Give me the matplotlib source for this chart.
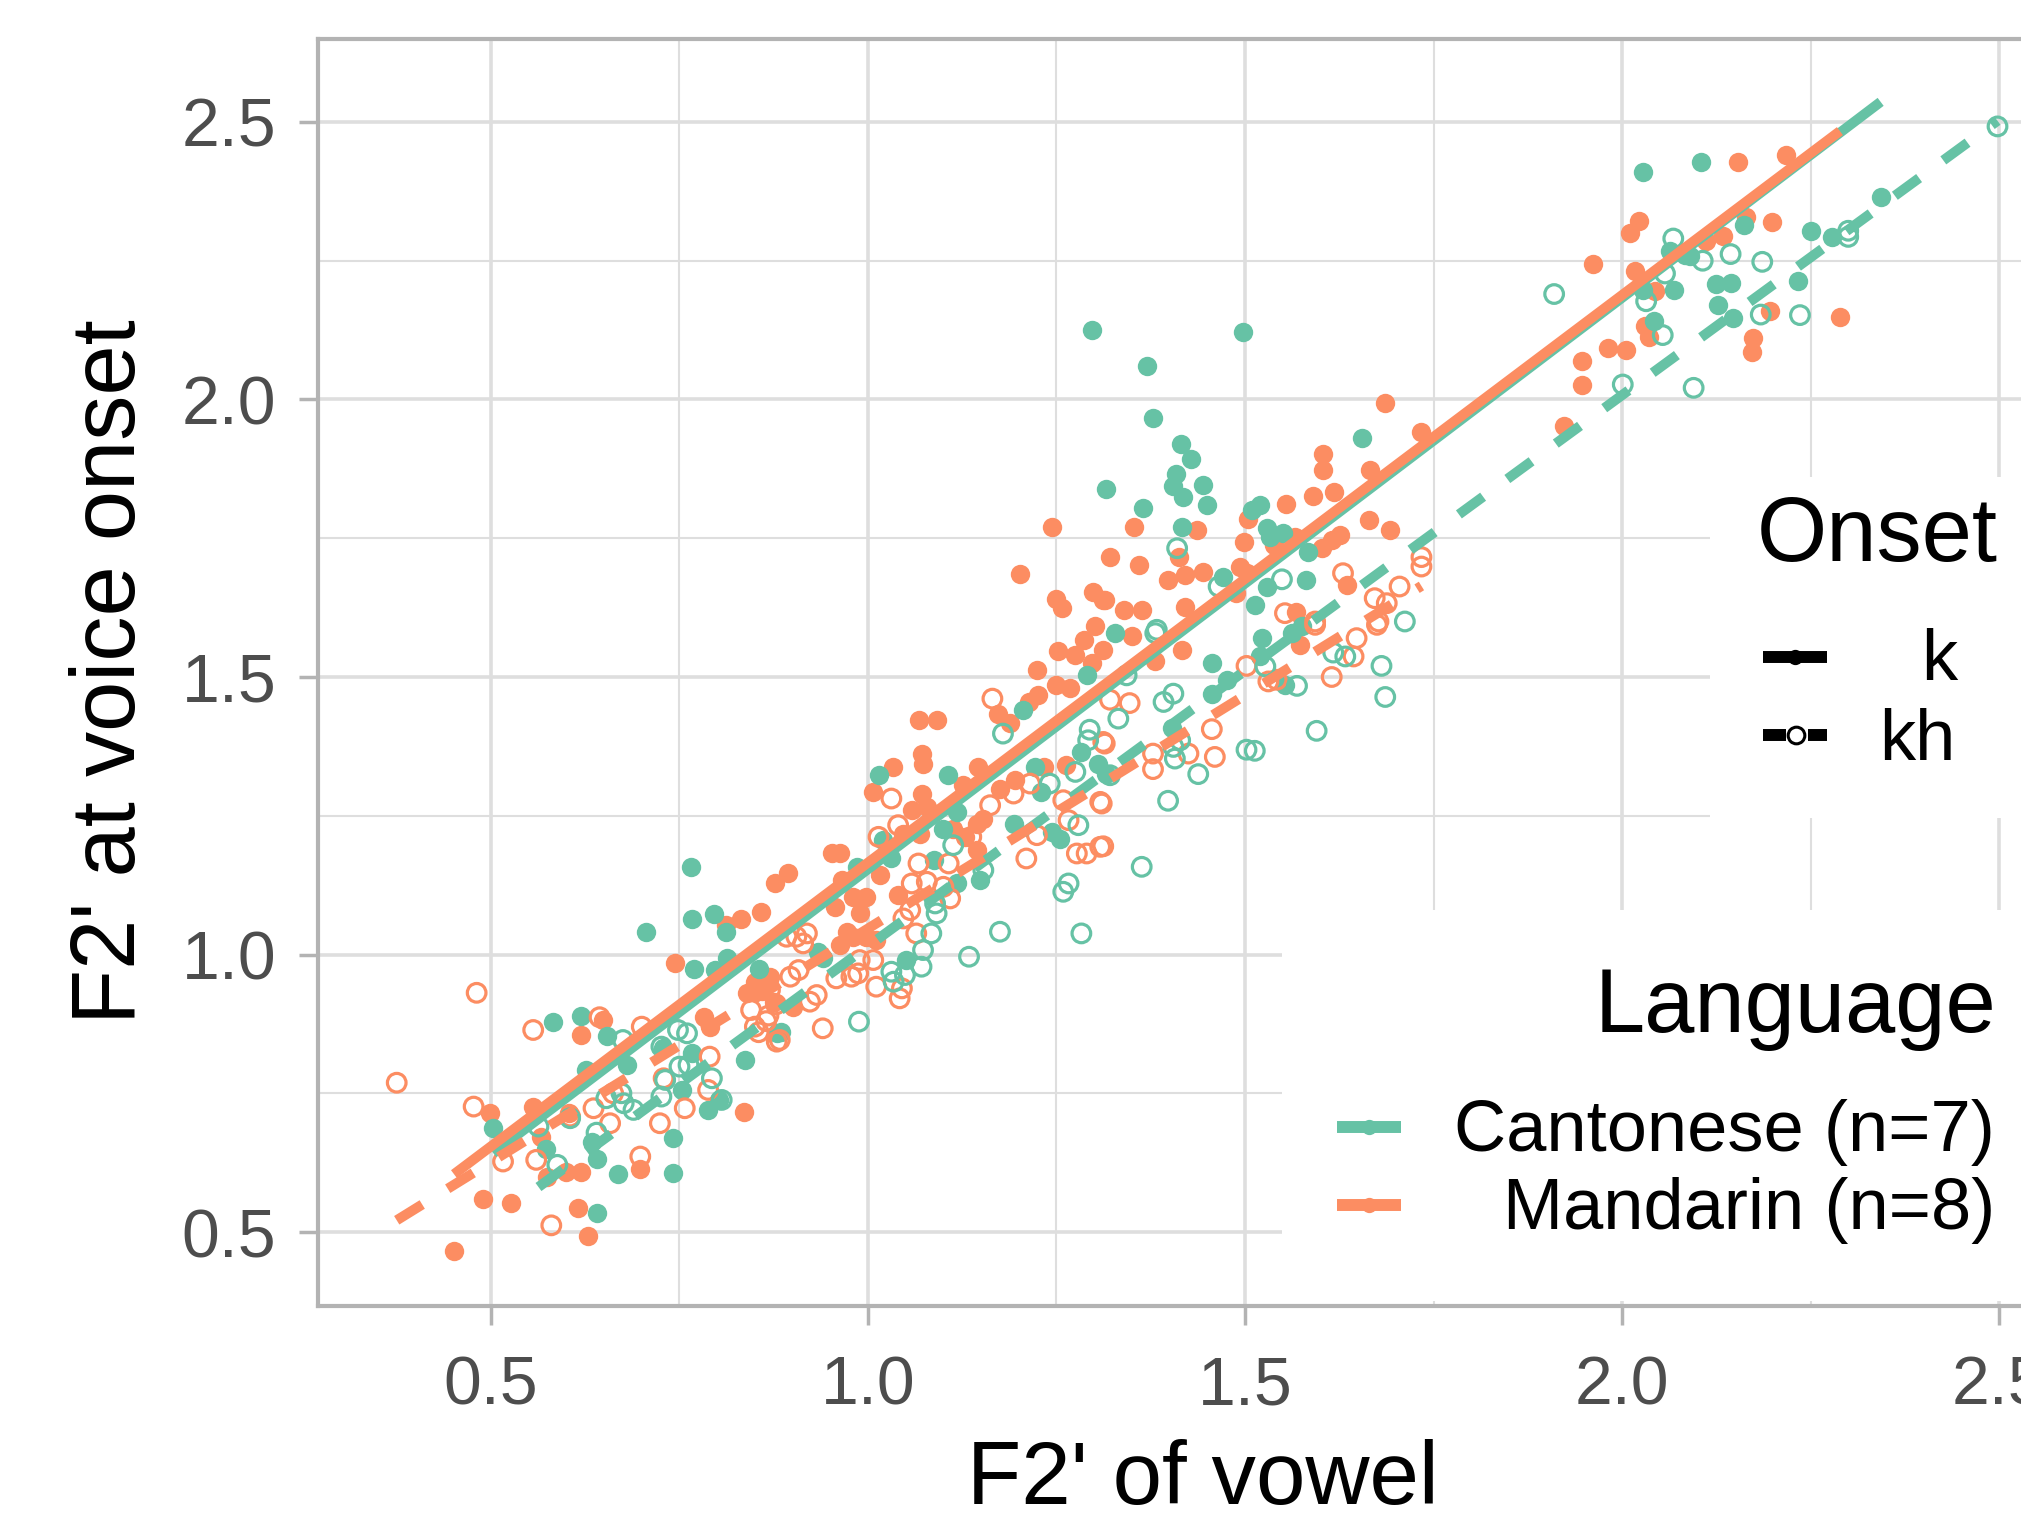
import numpy as np
import matplotlib.pyplot as plt
from matplotlib.patches import Rectangle
from matplotlib.lines import Line2D

plt.rcParams['font.family'] = ['Liberation Sans', 'DejaVu Sans']

# Output size in pixels (dpi 100).
W, H = 2021, 1514

# Colours (ColorBrewer Set2).
teal = '#66C2A5'
orange = '#FC8D62'

# Cantonese, onset k (filled).
cant_k_x = [2.028, 2.105, 2.162, 2.069, 2.251, 2.278, 2.343, 2.234, 2.125, 2.144, 2.127, 2.147, 2.042, 2.028, 2.09,
            2.083, 2.063, 1.497, 1.37, 1.378, 1.415, 1.428, 1.408, 1.404, 1.418, 1.444, 1.449, 1.316, 1.365, 1.416,
            1.655, 1.509, 1.52, 1.529, 1.55, 1.533, 1.583, 1.581, 1.529, 1.513, 1.471, 1.297, 1.29, 1.206, 1.015,
            1.106, 1.221, 1.23, 1.193, 1.244, 1.255, 1.118, 1.1, 1.02, 1.031, 0.985, 1.087, 1.149, 1.118, 1.305,
            1.283, 1.316, 1.328, 1.522, 1.562, 1.575, 1.456, 1.476, 1.456, 1.52, 1.553, 1.403, 0.765, 0.767, 0.796,
            0.706, 0.812, 0.769, 0.797, 0.855, 0.813, 0.582, 0.62, 0.654, 0.68, 0.626, 0.503, 0.573, 0.64, 0.634,
            0.669, 0.742, 0.741, 0.641, 0.753, 0.766, 0.788, 0.802, 0.837, 0.879, 0.728, 0.885, 0.934, 0.941, 1.051]
cant_k_y = [2.41, 2.428, 2.314, 2.197, 2.304, 2.292, 2.364, 2.214, 2.208, 2.21, 2.17, 2.147, 2.141, 2.198, 2.259,
            2.26, 2.267, 2.121, 2.061, 1.967, 1.92, 1.893, 1.866, 1.845, 1.825, 1.846, 1.81, 1.839, 1.805, 1.771,
            1.931, 1.8, 1.81, 1.768, 1.76, 1.753, 1.726, 1.675, 1.663, 1.63, 1.68, 2.125, 1.504, 1.44, 1.323,
            1.323, 1.338, 1.293, 1.236, 1.221, 1.209, 1.257, 1.227, 1.206, 1.173, 1.158, 1.17, 1.134, 1.128, 1.344,
            1.365, 1.326, 1.58, 1.57, 1.58, 1.591, 1.525, 1.495, 1.47, 1.537, 1.486, 1.408, 1.157, 1.064, 1.073,
            1.041, 1.041, 0.973, 0.972, 0.973, 0.993, 0.879, 0.889, 0.853, 0.801, 0.792, 0.687, 0.649, 0.631, 0.663,
            0.605, 0.606, 0.669, 0.535, 0.755, 0.822, 0.72, 0.738, 0.81, 0.858, 0.831, 0.861, 1.005, 0.993, 0.99]

# Cantonese, onset kh (open).
cant_kh_x = [2.498, 2.30, 2.30, 1.91, 2.068, 2.107, 2.144, 2.186, 2.057, 2.032, 2.184, 2.236, 2.054, 2.001, 2.095,
             1.41, 1.549, 1.465, 1.712, 1.383, 1.179, 1.294, 1.292, 1.275, 1.241, 1.279, 1.113, 1.153, 1.089,
             1.091, 1.259, 1.266, 1.175, 1.283, 1.084, 1.381, 1.617, 1.633, 1.681, 1.686, 1.569, 1.527, 1.392,
             1.405, 1.332, 1.414, 1.405, 1.407, 1.438, 1.502, 1.513, 1.595, 1.398, 1.363, 1.321, 1.343, 0.675,
             0.726, 0.748, 0.76, 0.75, 0.762, 0.793, 0.731, 0.673, 0.726, 0.653, 0.689, 0.676, 0.806, 0.64, 0.588,
             0.605, 0.563, 1.134, 0.988, 1.071, 1.073, 1.049, 1.031, 1.034]
cant_kh_y = [2.492, 2.304, 2.293, 2.19, 2.29, 2.25, 2.262, 2.248, 2.227, 2.177, 2.153, 2.152, 2.116, 2.027, 2.021,
             1.732, 1.676, 1.663, 1.6, 1.585, 1.398, 1.405, 1.386, 1.329, 1.308, 1.233, 1.197, 1.152, 1.092,
             1.074, 1.113, 1.128, 1.041, 1.038, 1.038, 1.579, 1.544, 1.537, 1.52, 1.464, 1.484, 1.519, 1.455,
             1.47, 1.425, 1.386, 1.374, 1.353, 1.325, 1.369, 1.367, 1.403, 1.277, 1.158, 1.323, 1.503, 0.846,
             0.834, 0.864, 0.858, 0.798, 0.801, 0.777, 0.774, 0.75, 0.744, 0.741, 0.72, 0.732, 0.738, 0.679, 0.621,
             0.705, 0.69, 0.996, 0.879, 0.978, 1.008, 0.963, 0.969, 0.951]

# Mandarin, onset k (filled).
mand_k_x = [2.154, 2.218, 2.022, 2.01, 1.962, 2.017, 2.044, 2.112, 2.134, 2.164, 2.199, 2.196, 2.174, 2.172, 2.289,
            2.031, 2.036, 1.981, 2.005, 1.947, 1.947, 1.923, 1.686, 1.734, 1.604, 1.604, 1.666, 1.59, 1.618, 1.555,
            1.504, 1.353, 1.437, 1.665, 1.692, 1.499, 1.538, 1.566, 1.602, 1.615, 1.626, 1.321, 1.359, 1.413, 1.42,
            1.444, 1.398, 1.493, 1.502, 1.488, 1.635, 1.314, 1.339, 1.363, 1.42, 1.568, 1.244, 1.202, 1.249, 1.257,
            1.299, 1.312, 1.301, 1.286, 1.252, 1.275, 1.297, 1.312, 1.224, 1.249, 1.268, 1.226, 1.213, 1.173, 1.188,
            1.067, 1.091, 1.071, 1.073, 1.033, 1.146, 1.006, 1.071, 1.126, 1.058, 1.078, 1.153, 1.144, 1.113, 1.129,
            1.047, 1.069, 0.952, 0.963, 0.894, 0.877, 0.965, 1.016, 0.98, 0.998, 1.04, 0.956, 0.989, 0.972, 1.233,
            1.263, 1.195, 1.175, 1.144, 1.35, 1.416, 1.381, 1.573, 0.832, 0.858, 0.812, 0.744, 0.62, 0.649, 0.499,
            0.556, 0.567, 0.603, 0.6, 0.62, 0.574, 0.697, 0.49, 0.527, 0.616, 0.629, 0.451, 0.835, 0.85, 0.87, 0.84,
            0.86, 0.875, 0.782, 0.79, 0.901, 0.963, 0.98, 0.998, 1.011]
mand_k_y = [2.428, 2.44, 2.322, 2.30, 2.245, 2.232, 2.195, 2.286, 2.295, 2.328, 2.32, 2.159, 2.11, 2.086, 2.149,
            2.132, 2.113, 2.093, 2.089, 2.069, 2.026, 1.952, 1.993, 1.942, 1.902, 1.873, 1.873, 1.826, 1.834, 1.811,
            1.785, 1.771, 1.765, 1.782, 1.765, 1.744, 1.738, 1.753, 1.732, 1.747, 1.755, 1.716, 1.702, 1.716, 1.684,
            1.69, 1.674, 1.699, 1.687, 1.651, 1.666, 1.639, 1.621, 1.621, 1.627, 1.618, 1.77, 1.685, 1.64, 1.625,
            1.654, 1.639, 1.591, 1.566, 1.547, 1.54, 1.526, 1.549, 1.513, 1.486, 1.48, 1.468, 1.455, 1.434, 1.417,
            1.423, 1.423, 1.362, 1.344, 1.338, 1.338, 1.292, 1.29, 1.305, 1.26, 1.266, 1.245, 1.236, 1.227, 1.212,
            1.218, 1.218, 1.182, 1.182, 1.146, 1.128, 1.134, 1.143, 1.104, 1.104, 1.107, 1.086, 1.074, 1.041, 1.338,
            1.341, 1.314, 1.299, 1.188, 1.573, 1.549, 1.528, 1.558, 1.064, 1.077, 1.053, 0.984, 0.855, 0.882, 0.714,
            0.726, 0.672, 0.714, 0.609, 0.609, 0.6, 0.613, 0.559, 0.553, 0.544, 0.493, 0.466, 0.717, 0.95, 0.96, 0.93,
            0.935, 0.915, 0.888, 0.87, 0.906, 1.017, 1.032, 1.032, 1.026]

# Mandarin, onset kh (open).
mand_kh_x = [1.63, 1.734, 1.734, 1.705, 1.672, 1.688, 1.553, 1.593, 1.677, 1.165, 1.031, 1.04, 1.014, 1.162, 1.193,
             1.215, 1.308, 1.224, 1.137, 1.259, 1.266, 1.277, 1.29, 1.308, 1.21, 1.067, 1.107, 1.058, 1.078, 1.1,
             1.109, 1.056, 1.047, 0.919, 0.905, 1.312, 1.593, 1.648, 1.675, 1.644, 1.615, 1.502, 1.531, 1.542,
             1.347, 1.321, 1.456, 1.46, 1.425, 1.378, 1.378, 1.314, 1.31, 1.312, 0.375, 0.481, 0.556, 0.477, 0.644,
             0.7, 0.79, 0.724, 0.757, 0.788, 0.658, 0.636, 0.516, 0.56, 0.58, 0.698, 0.729, 0.662, 0.605, 0.879,
             0.845, 0.865, 0.85, 0.855, 0.868, 0.878, 0.94, 0.883, 0.923, 0.932, 0.958, 0.978, 0.987, 1.011, 1.042,
             1.045, 1.007, 0.989, 0.897, 0.908, 0.914, 0.892, 0.87, 1.064]
mand_kh_y = [1.687, 1.716, 1.699, 1.663, 1.642, 1.633, 1.615, 1.6, 1.6, 1.461, 1.281, 1.233, 1.212, 1.269, 1.29,
             1.308, 1.275, 1.215, 1.212, 1.278, 1.242, 1.182, 1.182, 1.194, 1.173, 1.164, 1.164, 1.128, 1.131, 1.122,
             1.101, 1.08, 1.065, 1.038, 1.032, 1.383, 1.594, 1.57, 1.594, 1.537, 1.5, 1.52, 1.492, 1.495,
             1.453, 1.459, 1.406, 1.356, 1.362, 1.362, 1.334, 1.38, 1.272, 1.195, 0.769, 0.931, 0.864, 0.726, 0.887,
             0.87, 0.816, 0.696, 0.723, 0.756, 0.696, 0.723, 0.627, 0.63, 0.512, 0.636, 0.777, 0.75, 0.708, 0.843,
             0.9, 0.88, 0.87, 0.86, 0.89, 0.91, 0.867, 0.846, 0.915, 0.927, 0.957, 0.96, 0.966, 0.942, 0.921,
             0.939, 0.99, 0.99, 0.96, 0.972, 1.02, 1.032, 0.936, 1.038]

language_labels = ['Cantonese (n=7)', 'Mandarin (n=8)']
onset_labels = ['k', 'kh']


def fx(px):
    return px / W


def fy(py):
    return 1 - py / H


fig = plt.figure(figsize=(W / 100, H / 100), dpi=100)
ax = fig.add_axes([fx(318), fy(1306), (2088 - 318) / W, (1306 - 39) / H])

# points first, fits on top
ax.scatter(mand_k_x, mand_k_y, s=195, c=orange, linewidths=0, zorder=2)
ax.scatter(cant_k_x, cant_k_y, s=195, c=teal, linewidths=0, zorder=2)
ax.scatter(mand_kh_x, mand_kh_y, s=180, facecolors='none', edgecolors=orange, linewidths=2.3, zorder=2)
ax.scatter(cant_kh_x, cant_kh_y, s=180, facecolors='none', edgecolors=teal, linewidths=2.3, zorder=2)

groups = [(cant_k_x, cant_k_y, teal, '-'), (cant_kh_x, cant_kh_y, teal, '--'),
          (mand_k_x, mand_k_y, orange, '-'), (mand_kh_x, mand_kh_y, orange, '--')]
for gx, gy, col, ls in groups:
    coef = np.polyfit(gx, gy, 1)
    xs = np.array([min(gx), max(gx)])
    line, = ax.plot(xs, np.polyval(coef, xs), color=col, lw=7.2, solid_capstyle='butt',
                    dash_capstyle='butt', zorder=3)
    if ls == '--':
        line.set_dashes((3, 3))

ax.set_xlim(0.2706, 2.618)
ax.set_ylim(0.3667, 2.6495)
ax.set_xticks([0.5, 1.0, 1.5, 2.0, 2.5])
ax.set_yticks([0.5, 1.0, 1.5, 2.0, 2.5])
ax.set_xticks([0.75, 1.25, 1.75, 2.25], minor=True)
ax.set_yticks([0.75, 1.25, 1.75, 2.25], minor=True)
ax.set_xticklabels(['0.5', '1.0', '1.5', '2.0', '2.5'])
ax.set_yticklabels(['0.5', '1.0', '1.5', '2.0', '2.5'])
ax.grid(which='major', color='#DEDEDE', lw=2.6)
ax.grid(which='minor', color='#DEDEDE', lw=1.5)
ax.set_axisbelow(True)
ax.tick_params(which='major', length=14, width=2.5, color='#B3B3B3', labelsize=49,
               labelcolor='#4D4D4D')
ax.tick_params(axis='x', pad=21)
ax.tick_params(axis='y', pad=16)
ax.tick_params(which='minor', length=0)
for sp in ax.spines.values():
    sp.set_color('#B3B3B3')
    sp.set_linewidth(3)

fig.text(fx(1203), fy(1504), "F2' of vowel", ha='center', va='baseline', fontsize=64)
fig.text(fx(135), fy(672), "F2' at voice onset", rotation=90, rotation_mode='anchor',
         ha='center', va='baseline', fontsize=65)

# legend backgrounds
fig.add_artist(Rectangle((fx(1710), fy(818)), (2040 - 1710) / W, (818 - 477) / H,
                         facecolor='white', edgecolor='none', zorder=3))
fig.add_artist(Rectangle((fx(1282), fy(1301)), (2040 - 1282) / W, (1301 - 910) / H,
                         facecolor='white', edgecolor='none', zorder=3))

# Onset legend
fig.text(fx(1998), fy(561), 'Onset', ha='right', va='baseline', fontsize=65, zorder=4)
fig.text(fx(1957), fy(680), onset_labels[0], ha='right', va='baseline', fontsize=52, zorder=4)
fig.text(fx(1955), fy(760), onset_labels[1], ha='right', va='baseline', fontsize=52, zorder=4)
fig.add_artist(Line2D([fx(1763), fx(1827)], [fy(657)] * 2, color='black', lw=8.6,
                      solid_capstyle='butt', zorder=4))
fig.add_artist(Line2D([fx(1795)], [fy(657)], marker='o', ms=11, color='black',
                      markeredgewidth=0, zorder=5))
fig.add_artist(Line2D([fx(1763), fx(1786)], [fy(735)] * 2, color='black', lw=8.6,
                      solid_capstyle='butt', zorder=4))
fig.add_artist(Line2D([fx(1808), fx(1827)], [fy(735)] * 2, color='black', lw=8.6,
                      solid_capstyle='butt', zorder=4))
fig.add_artist(Line2D([fx(1796)], [fy(735)], marker='o', ms=12, markerfacecolor='white',
                      markeredgecolor='black', markeredgewidth=2.2, zorder=5))

# Language legend
fig.text(fx(1996), fy(1032), 'Language', ha='right', va='baseline', fontsize=65, zorder=4)
for lab, col, ky, by in zip(language_labels, [teal, orange], [1127, 1205], [1151, 1229]):
    fig.text(fx(1995), fy(by), lab, ha='right', va='baseline', fontsize=52, zorder=4)
    fig.add_artist(Line2D([fx(1337), fx(1401)], [fy(ky)] * 2, color=col, lw=8.6,
                          solid_capstyle='butt', zorder=4))
    fig.add_artist(Line2D([fx(1369)], [fy(ky)], marker='o', ms=11, color=col,
                          markeredgewidth=0, zorder=5))

fig.savefig('out.png', dpi=100)
